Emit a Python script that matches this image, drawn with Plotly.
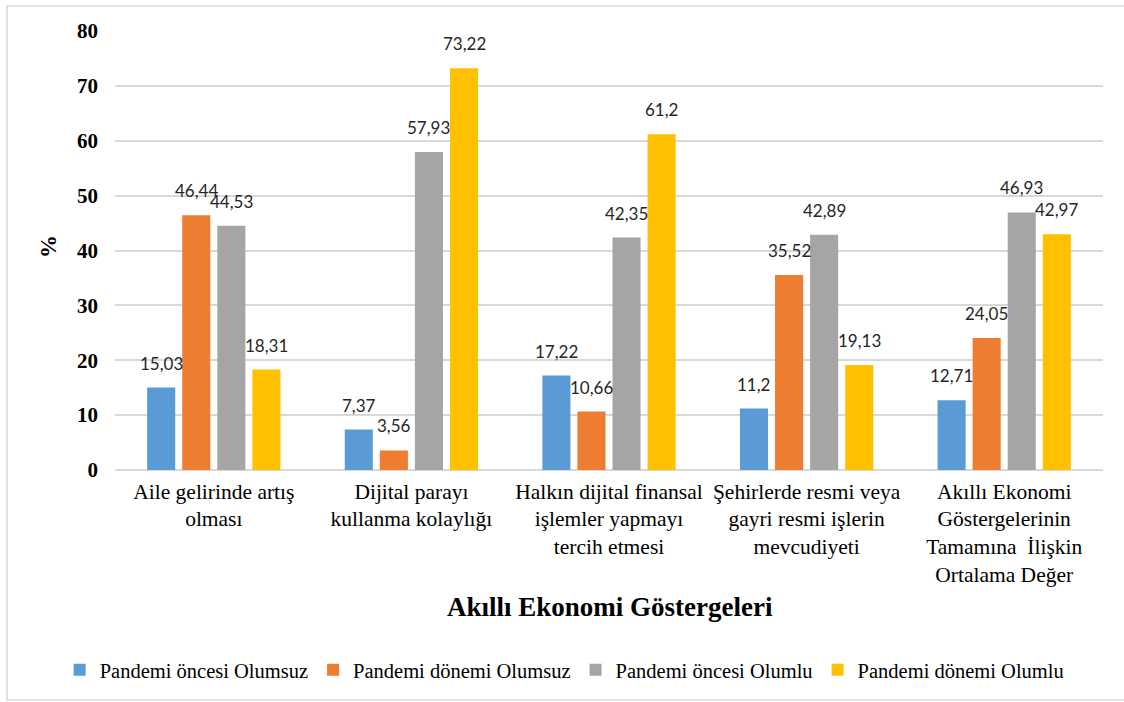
import plotly.graph_objects as go

categories = [
    "Aile gelirinde artış<br>olması",
    "Dijital parayı<br>kullanma kolaylığı",
    "Halkın dijital finansal<br>işlemler yapmayı<br>tercih etmesi",
    "Şehirlerde resmi veya<br>gayri resmi işlerin<br>mevcudiyeti",
    "Akıllı Ekonomi<br>Göstergelerinin<br>Tamamına  İlişkin<br>Ortalama Değer",
]
series_names = [
    "Pandemi öncesi Olumsuz",
    "Pandemi dönemi Olumsuz",
    "Pandemi öncesi Olumlu",
    "Pandemi dönemi Olumlu",
]
pre_negative = [15.03, 7.37, 17.22, 11.2, 12.71]
during_negative = [46.44, 3.56, 10.66, 35.52, 24.05]
pre_positive = [44.53, 57.93, 42.35, 42.89, 46.93]
during_positive = [18.31, 73.22, 61.2, 19.13, 42.97]
label_pre_negative = ["15,03", "7,37", "17,22", "11,2", "12,71"]
label_during_negative = ["46,44", "3,56", "10,66", "35,52", "24,05"]
label_pre_positive = ["44,53", "57,93", "42,35", "42,89", "46,93"]
label_during_positive = ["18,31", "73,22", "61,2", "19,13", "42,97"]
y_ticks = [0, 10, 20, 30, 40, 50, 60, 70, 80]

values = [pre_negative, during_negative, pre_positive, during_positive]
labels = [label_pre_negative, label_during_negative, label_pre_positive, label_during_positive]
colors = ["#5B9BD5", "#ED7D31", "#A5A5A5", "#FFC000"]

SERIF = "Liberation Serif, Times New Roman, serif"
SANS = "Lato, Liberation Sans, sans-serif"

fig = go.Figure()
for name, vals, col in zip(series_names, values, colors):
    fig.add_trace(go.Bar(name=name, x=categories, y=vals, marker=dict(color=col, line=dict(width=0))))

# data labels
slot_px = 35.1
annotations = []
for i, (vals, labs) in enumerate(zip(values, labels)):
    for cat, v, lab in zip(categories, vals, labs):
        annotations.append(dict(
            x=cat, y=v, xref="x", yref="y", text=lab, showarrow=False,
            xanchor="center", yanchor="bottom", xshift=(i - 1.5) * slot_px, yshift=12,
            font=dict(family=SANS, size=17, color="#262626"),
        ))

annotations.append(dict(
    x=0.501, y=-0.312, xref="paper", yref="paper", text="<b>Akıllı Ekonomi Göstergeleri</b>",
    showarrow=False, xanchor="center", yanchor="middle",
    font=dict(family=SERIF, size=27, color="#000000"),
))
annotations.append(dict(
    x=-0.0668, y=0.508, xref="paper", yref="paper", text="<b>%</b>", textangle=-90,
    showarrow=False, xanchor="center", yanchor="middle",
    font=dict(family=SERIF, size=23, color="#000000"),
))

fig.update_layout(
    width=1124, height=702,
    margin=dict(l=115, r=21, t=31, b=232),
    paper_bgcolor="white", plot_bgcolor="white",
    barmode="group", bargap=0.29, bargroupgap=0.2,
    showlegend=True,
    legend=dict(orientation="h", x=-0.056, y=-0.4556, xanchor="left", yanchor="middle",
                font=dict(family=SERIF, size=20.5, color="#000000"),
                bgcolor="rgba(0,0,0,0)", itemwidth=30, tracegroupgap=0),
    annotations=annotations,
    shapes=[dict(type="rect", xref="paper", yref="paper", x0=-0.1093, x1=1.03, y0=-0.5239, y1=1.0569,
                 line=dict(color="#D9D9D9", width=1.5), fillcolor="rgba(0,0,0,0)", layer="below")],
)
fig.update_xaxes(
    showgrid=False, showline=False, zeroline=False, ticks="",
    tickfont=dict(family=SERIF, size=21.5, color="#000000"),
    ticklabelstandoff=6, automargin=False, tickangle=0,
)
fig.update_yaxes(
    range=[0, 80], tickvals=y_ticks, ticktext=[f"<b>{t}</b>" for t in y_ticks],
    showgrid=True, gridcolor="#D9D9D9", gridwidth=1.5,
    zeroline=True, zerolinecolor="#D9D9D9", zerolinewidth=1.5,
    showline=False, ticks="",
    tickfont=dict(family=SERIF, size=21, color="#000000"),
    ticklabelstandoff=16, automargin=False,
)
fig.write_html("out.html")
